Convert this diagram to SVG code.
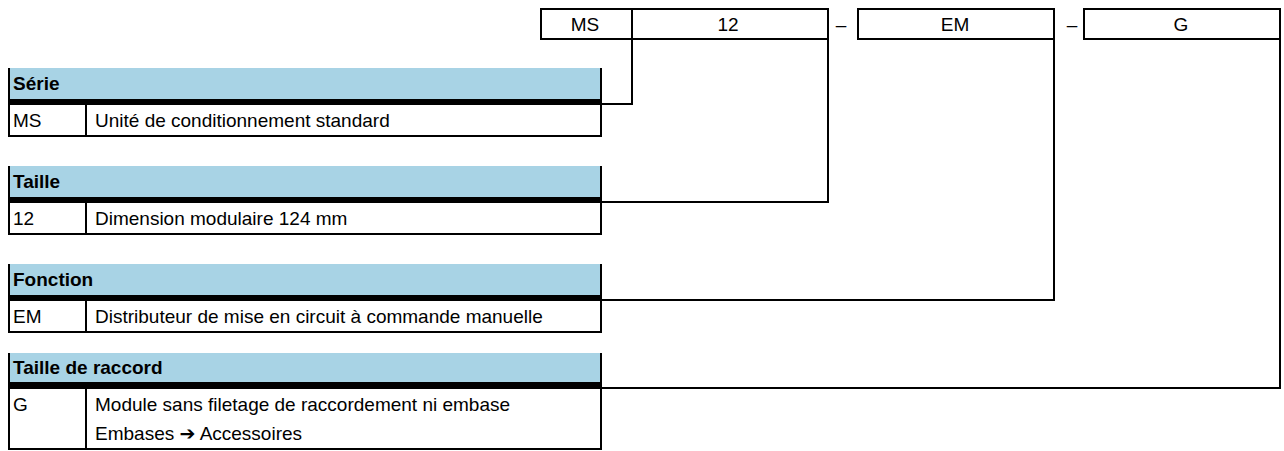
<svg xmlns="http://www.w3.org/2000/svg" width="1284" height="451" viewBox="0 0 1284 451">
<style>
text{font-family:"Liberation Sans","DejaVu Sans",sans-serif;font-size:19px;fill:#000}
.h{font-weight:bold}
.c{text-anchor:middle}
.hd{fill:#a8d3e5}
.bar{fill:#000}
.ln{fill:none;stroke:#000;stroke-width:2}
</style>
<rect width="1284" height="451" fill="#fff"/>
<g id="code">
<rect class="ln" x="541" y="9" width="287" height="30"/>
<line class="ln" x1="632" y1="9" x2="632" y2="39"/>
<text class="c" x="585" y="31">MS</text>
<text class="c" x="728" y="31">12</text>
<text class="c" x="841" y="31">–</text>
<rect class="ln" x="858" y="9" width="196" height="30"/>
<text class="c" x="955" y="31">EM</text>
<text class="c" x="1072" y="31">–</text>
<rect class="ln" x="1084" y="9" width="196" height="30"/>
<text class="c" x="1181" y="31">G</text>
</g>
<g id="serie">
<rect class="hd" x="9" y="68" width="592" height="31"/>
<rect class="bar" x="9" y="99" width="592" height="6"/>
<path class="ln" d="M9,68V136H601V68M86,105V136"/>
<text class="h" x="13" y="90">Série</text>
<text x="13" y="127">MS</text>
<text x="95" y="127">Unité de conditionnement standard</text>
</g>
<g id="taille">
<rect class="hd" x="9" y="166" width="592" height="31"/>
<rect class="bar" x="9" y="197" width="592" height="6"/>
<path class="ln" d="M9,166V234H601V166M86,203V234"/>
<text class="h" x="13" y="188">Taille</text>
<text x="13" y="225">12</text>
<text x="95" y="225">Dimension modulaire 124 mm</text>
</g>
<g id="fonction">
<rect class="hd" x="9" y="264" width="592" height="31"/>
<rect class="bar" x="9" y="295" width="592" height="6"/>
<path class="ln" d="M9,264V332H601V264M86,301V332"/>
<text class="h" x="13" y="286">Fonction</text>
<text x="13" y="323">EM</text>
<text x="95" y="323">Distributeur de mise en circuit à commande manuelle</text>
</g>
<g id="raccord">
<rect class="hd" x="9" y="353" width="592" height="29"/>
<rect class="bar" x="9" y="382" width="592" height="7"/>
<path class="ln" d="M9,353V449H601V353M86,389V449"/>
<text class="h" x="13" y="374">Taille de raccord</text>
<text x="13" y="411">G</text>
<text x="95" y="411">Module sans filetage de raccordement ni embase</text>
<text x="95" y="440">Embases ➔ Accessoires</text>
</g>
<g id="connectors">
<path class="ln" d="M632,39V104H601"/>
<path class="ln" d="M828,39V202H601"/>
<path class="ln" d="M1054,39V300H601"/>
<path class="ln" d="M1280,39V388H601"/>
</g>
</svg>
